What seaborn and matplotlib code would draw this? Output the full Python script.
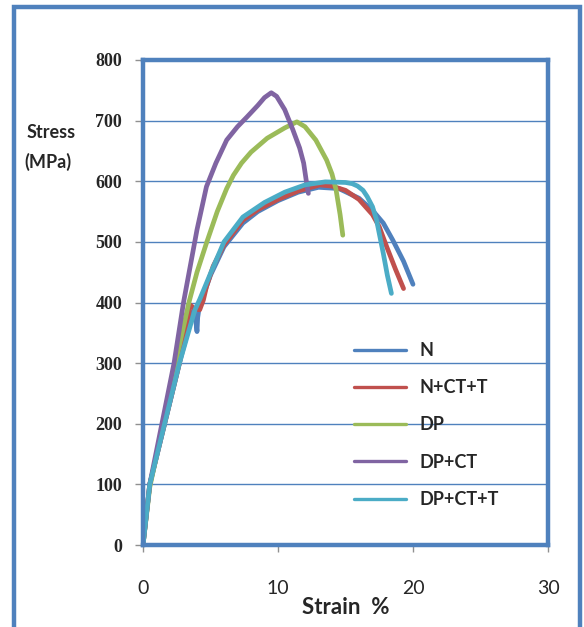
import matplotlib
matplotlib.use("Agg")
import matplotlib.pyplot as plt
import seaborn as sns
import pandas as pd
from matplotlib.patches import Rectangle
from matplotlib.lines import Line2D

# ---- data ----
series_names = ["N", "N+CT+T", "DP", "DP+CT", "DP+CT+T"]
colors = ["#4F81BD", "#C0504D", "#9BBB59", "#8064A2", "#4BACC6"]

n_x = [0, 0.5, 1.6, 2.7, 3.4, 3.7, 3.9, 4.0, 4.05, 4.2, 4.6, 5.0, 6.0, 7.4, 8.5, 10, 11.5, 13, 14.5, 16, 17, 17.8, 18.5, 19.3, 20.0]
n_y = [0, 100, 200, 300, 360, 385, 372, 352, 375, 398, 420, 445, 492, 531, 550, 568, 582, 590, 588, 572, 552, 531, 503, 468, 430]

nct_x = [0, 0.5, 1.6, 2.7, 3.2, 3.5, 3.8, 4.2, 4.47, 4.7, 5.2, 6.0, 7.4, 8.5, 10, 11.5, 13.1, 14, 15, 16, 17, 17.5, 18.05, 18.7, 19.3]
nct_y = [0, 100, 200, 300, 360, 396, 390, 388, 404, 426, 460, 495, 536, 553, 570, 584, 594, 592, 585, 570, 545, 525, 492, 455, 423]

dp_x = [0, 0.5, 1.5, 2.4, 3.4, 4.0, 4.7, 5.5, 6.2, 6.7, 7.3, 8.0, 9.2, 10.5, 11.4, 12.0, 12.8, 13.6, 14.0, 14.3, 14.6, 14.8]
dp_y = [0, 95, 200, 300, 400, 450, 498, 550, 588, 610, 630, 648, 671, 688, 698, 690, 668, 635, 612, 586, 545, 511]

dpct_x = [0, 0.5, 1.4, 2.3, 3.0, 3.5, 4.0, 4.7, 5.4, 6.2, 7.0, 7.7, 8.5, 9.0, 9.5, 9.9, 10.5, 11.1, 11.6, 11.9, 12.1, 12.25]
dpct_y = [0, 100, 200, 300, 400, 460, 520, 591, 630, 668, 690, 706, 725, 738, 746, 740, 718, 685, 655, 630, 600, 580]

dpctt_x = [0, 0.5, 1.6, 2.7, 3.48, 3.85, 4.2, 5.0, 6.0, 7.4, 9.0, 10.5, 12.0, 13.5, 15.0, 15.5, 15.9, 16.3, 16.6, 17.0, 17.3, 17.8, 18.1, 18.4]
dpctt_y = [0, 100, 200, 300, 360, 388, 405, 448, 500, 541, 565, 582, 594, 599, 598, 596, 592, 585, 575, 558, 536, 481, 445, 415]

x_ticks = [0, 10, 20, 30]
y_ticks = [0, 100, 200, 300, 400, 500, 600, 700, 800]

xs = [n_x, nct_x, dp_x, dpct_x, dpctt_x]
ys = [n_y, nct_y, dp_y, dpct_y, dpctt_y]
frames = []
for name, x, y in zip(series_names, xs, ys):
    frames.append(pd.DataFrame({"strain": x, "stress": y, "series": name}))
df = pd.concat(frames, ignore_index=True)

sns.set_theme(style="white")
plt.rcParams['font.family'] = ['Lato', 'DejaVu Sans']

BLUE = "#4F81BD"
fig = plt.figure(figsize=(5.84, 6.27), dpi=100)
fig.patch.set_facecolor("white")
ax = fig.add_axes([143/584, 1-545/627, (548-143)/584, (545-60)/627])

sns.lineplot(data=df, x="strain", y="stress", hue="series", hue_order=series_names,
             palette=colors, sort=False, estimator=None, units="series",
             linewidth=3.4, ax=ax, legend=False)
for ln in ax.get_lines():
    ln.set_solid_capstyle('round')
    ln.set_solid_joinstyle('round')

ax.set_xlim(0, 30)
ax.set_ylim(0, 800)
ax.set_xticks(x_ticks)
ax.set_yticks(y_ticks)
ax.set_xticklabels([str(t) for t in x_ticks], fontsize=14, family=['Lato', 'DejaVu Sans'])
ax.set_yticklabels([str(t) for t in y_ticks], fontsize=13, fontweight='bold',
                   family=['Liberation Serif', 'DejaVu Serif'])
ax.tick_params(axis='y', direction='out', length=6, width=1, color='#909090', pad=9, left=True)
ax.tick_params(axis='x', direction='out', length=5, width=1, color='#909090', pad=20, bottom=True)
ax.yaxis.grid(True, color=BLUE, linewidth=1)
ax.xaxis.grid(False)
ax.set_axisbelow(True)
for s in ax.spines.values():
    s.set_color(BLUE)
    s.set_linewidth(3.2)
    s.set_visible(True)

ax.set_xlabel("Strain  %", fontsize=16, fontweight='bold', labelpad=0)
ax.set_ylabel("")
fig.text(27/584, 1-133/627, "Stress", fontsize=13, fontweight='bold', va='center', ha='left')
fig.text(24/584, 1-162/627, "(MPa)", fontsize=13, fontweight='bold', va='center', ha='left')

handles = [Line2D([0], [0], color=c, lw=2.4) for c in colors]
leg = ax.legend(handles, series_names, loc='upper left', bbox_to_anchor=(0.52, 0.4186),
                frameon=False, fontsize=13, handlelength=2.9, handletextpad=0.75,
                labelspacing=1.12, borderpad=0, borderaxespad=0)
for t in leg.get_texts():
    t.set_fontweight('bold')

# outer chart border
fig.add_artist(Rectangle((14/584, -0.05), (580-14)/584, 1.05 - 7/627,
                         transform=fig.transFigure, fill=False, edgecolor=BLUE,
                         linewidth=3.2, clip_on=False))

fig.savefig("out.png", dpi=100, facecolor="white")
